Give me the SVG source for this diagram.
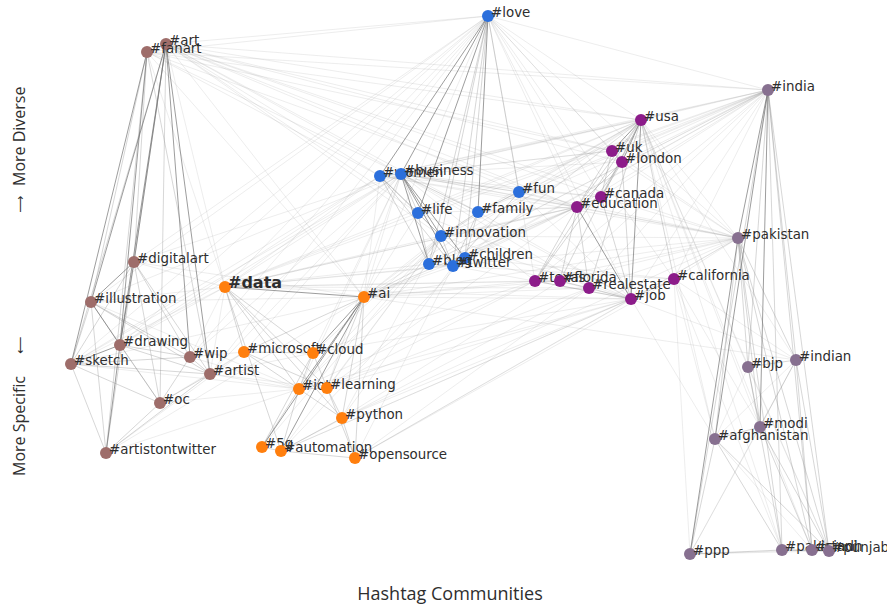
<svg xmlns="http://www.w3.org/2000/svg" width="887" height="606" viewBox="0 0 887 606">
<style>
.bg{fill:#fff}
.d{stroke:#737373;stroke-width:1;stroke-opacity:.7;fill:none}
.m{stroke:#8c8c8c;stroke-width:.7;stroke-opacity:.5;fill:none}
.f{stroke:#9a9a9a;stroke-width:.6;stroke-opacity:.3;fill:none}
.n circle{r:6}
.art{fill:#9e6d6a}.blu{fill:#2b6fdc}.pur{fill:#8c1c8a}.org{fill:#ff7f0e}.mau{fill:#877090}
.lb{font-family:"DejaVu Sans",sans-serif;font-size:13.4px;fill:#2e2e2e}
.bold{font-weight:bold;font-size:16px}
.ax{font-family:"Open Sans","DejaVu Sans",sans-serif;fill:#2e2e2e}
.ar{font-family:"DejaVu Sans",sans-serif;fill:#2e2e2e}
</style>
<rect class="bg" width="887" height="606"/>
<g id="connectors">
<path class="f" d="M166 44L488 16M166 44L380 176M166 44L401 174M166 44L641 120M166 44L768 90M166 44L622 162M166 44L577 207M166 44L519 192M166 44L478 212M166 44L418 213M166 44L601 197M166 44L612 151M166 44L441 236M166 44L738 238M147 52L488 16M147 52L401 174M147 52L380 176M147 52L641 120M147 52L768 90M147 52L225 287M147 52L364 297M488 16L641 120M488 16L612 151M488 16L622 162M488 16L768 90M488 16L577 207M488 16L601 197M488 16L738 238M488 16L364 297M488 16L225 287M488 16L71 364M488 16L120 345M488 16L91 302M488 16L134 262M488 16L631 299M488 16L674 279M488 16L535 281M768 90L641 120M768 90L612 151M768 90L622 162M768 90L601 197M768 90L577 207M768 90L401 174M768 90L380 176M768 90L519 192M768 90L478 212M768 90L418 213M768 90L465 258M768 90L631 299M768 90L674 279M768 90L589 288M768 90L364 297M768 90L225 287M641 120L401 174M641 120L380 176M641 120L418 213M641 120L478 212M641 120L519 192M641 120L441 236M641 120L429 264M641 120L453 266M641 120L465 258M641 120L364 297M641 120L225 287M641 120L738 238M401 174L577 207M401 174L601 197M401 174L622 162M401 174L612 151M401 174L631 299M401 174L364 297M401 174L225 287M401 174L244 352M401 174L299 389M401 174L327 388M401 174L313 353M401 174L589 288M401 174L535 281M401 174L71 364M401 174L134 262M401 174L91 302M401 174L120 345M401 174L210 374M401 174L190 357M380 176L577 207M380 176L601 197M380 176L612 151M380 176L225 287M380 176L364 297M380 176L120 345M380 176L71 364M577 207L441 236M577 207L429 264M577 207L453 266M577 207L465 258M577 207L478 212M577 207L519 192M577 207L418 213M577 207L364 297M577 207L225 287M577 207L327 388M577 207L738 238M364 297L441 236M364 297L429 264M364 297L453 266M364 297L465 258M364 297L631 299M364 297L535 281M364 297L589 288M364 297L478 212M364 297L418 213M364 297L738 238M225 287L441 236M225 287L429 264M225 287L453 266M225 287L418 213M225 287L631 299M225 287L589 288M225 287L210 374M225 287L190 357M225 287L120 345M225 287L91 302M225 287L134 262M631 299L453 266M631 299L441 236M631 299L465 258M631 299L738 238M631 299L796 360M631 299L715 439M631 299L327 388M631 299L299 389M631 299L313 353M631 299L355 458M631 299L342 418M631 299L281 451M738 238L601 197M738 238L674 279M738 238L589 288M738 238L535 281M738 238L560 281M738 238L401 174M738 238L441 236M738 238L225 287M738 238L380 176M674 279L715 439M674 279L690 554M674 279L782 550M674 279L760 427M674 279L796 360M674 279L453 266M674 279L465 258M535 281L299 389M535 281L313 353M535 281L327 388M560 281L342 418M589 288L355 458M589 288L281 451M441 236L299 389M441 236L313 353M441 236L327 388M441 236L281 451M441 236L262 447M441 236L342 418M453 266L355 458M453 266L342 418M429 264L299 389M465 258L281 451M244 352L210 374M244 352L190 357M313 353L210 374M299 389L210 374M210 374L327 388M190 357L299 389M160 403L299 389M160 403L244 352M106 453L299 389M106 453L244 352M71 364L299 389M71 364L225 287M91 302L299 389M796 360L715 439M796 360L690 554M715 439L812 550M760 427L690 554M748 367L715 439M748 367L829 551M690 554L812 550M690 554L829 551M641 120L796 360M641 120L748 367M641 120L715 439M641 120L760 427M641 120L782 550M622 162L738 238M612 151L738 238M641 120L829 551M641 120L812 550M519 192L738 238M519 192L631 299M478 212L631 299M418 213L631 299M355 458L738 238M342 418L738 238M364 297L796 360M281 451L631 299M355 458L674 279M327 388L589 288M166 44L225 287M166 44L364 297M147 52L612 151M147 52L577 207M768 90L535 281M768 90L560 281M768 90L441 236M768 90L453 266M768 90L429 264M488 16L190 357M488 16L210 374M225 287L535 281M225 287L560 281M225 287L577 207M364 297L560 281M364 297L577 207M71 364L364 297M91 302L364 297M134 262L364 297M106 453L364 297"/>
<path class="m" d="M147 52L91 302M147 52L134 262M147 52L106 453M147 52L210 374M166 44L71 364M166 44L160 403M166 44L106 453M134 262L71 364M134 262L210 374M134 262L160 403M134 262L190 357M91 302L71 364M91 302L210 374M91 302L190 357M91 302L160 403M120 345L190 357M120 345L210 374M120 345L160 403M71 364L210 374M71 364L106 453M71 364L190 357M71 364L160 403M190 357L210 374M190 357L160 403M210 374L160 403M210 374L106 453M160 403L106 453M91 302L106 453M488 16L519 192M488 16L441 236M488 16L429 264M488 16L453 266M488 16L465 258M380 176L401 174M380 176L418 213M380 176L441 236M380 176L429 264M380 176L453 266M401 174L418 213M401 174L478 212M401 174L519 192M418 213L441 236M418 213L429 264M478 212L465 258M478 212L453 266M519 192L453 266M441 236L429 264M441 236L453 266M441 236L465 258M429 264L453 266M465 258L453 266M519 192L478 212M478 212L441 236M641 120L601 197M641 120L577 207M641 120L535 281M641 120L560 281M641 120L589 288M641 120L674 279M612 151L622 162M612 151L577 207M612 151L601 197M622 162L601 197M622 162L577 207M622 162L631 299M601 197L577 207M577 207L535 281M577 207L560 281M577 207L589 288M535 281L560 281M560 281L589 288M589 288L631 299M535 281L631 299M674 279L631 299M601 197L631 299M622 162L535 281M225 287L244 352M225 287L313 353M225 287L299 389M225 287L327 388M225 287L342 418M364 297L244 352M364 297L327 388M364 297L342 418M364 297L355 458M244 352L313 353M244 352L299 389M244 352L327 388M313 353L299 389M313 353L327 388M313 353L262 447M299 389L327 388M299 389L262 447M299 389L281 451M299 389L342 418M327 388L342 418M327 388L355 458M342 418L355 458M262 447L281 451M281 451L355 458M342 418L281 451M225 287L281 451M768 90L796 360M768 90L748 367M768 90L782 550M768 90L812 550M768 90L829 551M768 90L690 554M738 238L715 439M738 238L782 550M738 238L812 550M738 238L829 551M738 238L748 367M738 238L760 427M738 238L796 360M796 360L748 367M796 360L760 427M796 360L829 551M796 360L812 550M748 367L760 427M748 367L782 550M760 427L715 439M760 427L829 551M760 427L812 550M715 439L782 550M715 439L690 554M690 554L782 550M782 550L812 550M812 550L829 551M782 550L829 551M715 439L829 551"/>
<path class="d" d="M166 44L91 302M166 44L120 345M166 44L210 374M166 44L134 262M147 52L71 364M147 52L120 345M166 44L190 357M134 262L120 345M134 262L91 302M91 302L120 345M120 345L71 364M106 453L120 345M577 207L631 299M641 120L631 299M364 297L299 389M364 297L262 447M364 297L281 451M364 297L313 353M225 287L364 297M768 90L738 238M768 90L715 439M768 90L760 427M738 238L690 554M401 174L441 236M401 174L429 264M401 174L453 266M488 16L380 176M488 16L401 174M488 16L418 213M488 16L478 212M641 120L612 151M641 120L622 162M401 174L465 258"/>
</g>
<g id="n-art" class="n"><circle class="art" cx="166" cy="44"/><text class="lb" x="169" y="45">#art</text></g>
<g id="n-fanart" class="n"><circle class="art" cx="147" cy="52"/><text class="lb" x="150" y="53">#fanart</text></g>
<g id="n-digitalart" class="n"><circle class="art" cx="134" cy="262"/><text class="lb" x="137" y="263">#digitalart</text></g>
<g id="n-illustration" class="n"><circle class="art" cx="91" cy="302"/><text class="lb" x="94" y="303">#illustration</text></g>
<g id="n-drawing" class="n"><circle class="art" cx="120" cy="345"/><text class="lb" x="123" y="346">#drawing</text></g>
<g id="n-sketch" class="n"><circle class="art" cx="71" cy="364"/><text class="lb" x="74" y="365">#sketch</text></g>
<g id="n-wip" class="n"><circle class="art" cx="190" cy="357"/><text class="lb" x="193" y="358">#wip</text></g>
<g id="n-artist" class="n"><circle class="art" cx="210" cy="374"/><text class="lb" x="213" y="375">#artist</text></g>
<g id="n-oc" class="n"><circle class="art" cx="160" cy="403"/><text class="lb" x="163" y="404">#oc</text></g>
<g id="n-artistontwitter" class="n"><circle class="art" cx="106" cy="453"/><text class="lb" x="109" y="454">#artistontwitter</text></g>
<g id="n-love" class="n"><circle class="blu" cx="488" cy="16"/><text class="lb" x="491" y="17">#love</text></g>
<g id="n-women" class="n"><circle class="blu" cx="380" cy="176"/><text class="lb" x="383" y="177">#women</text></g>
<g id="n-business" class="n"><circle class="blu" cx="401" cy="174"/><text class="lb" x="404" y="175">#business</text></g>
<g id="n-fun" class="n"><circle class="blu" cx="519" cy="192"/><text class="lb" x="522" y="193">#fun</text></g>
<g id="n-life" class="n"><circle class="blu" cx="418" cy="213"/><text class="lb" x="421" y="214">#life</text></g>
<g id="n-family" class="n"><circle class="blu" cx="478" cy="212"/><text class="lb" x="481" y="213">#family</text></g>
<g id="n-innovation" class="n"><circle class="blu" cx="441" cy="236"/><text class="lb" x="444" y="237">#innovation</text></g>
<g id="n-children" class="n"><circle class="blu" cx="465" cy="258"/><text class="lb" x="468" y="259">#children</text></g>
<g id="n-blog" class="n"><circle class="blu" cx="429" cy="264"/><text class="lb" x="432" y="265">#blog</text></g>
<g id="n-twitter" class="n"><circle class="blu" cx="453" cy="266"/><text class="lb" x="456" y="267">#twitter</text></g>
<g id="n-usa" class="n"><circle class="pur" cx="641" cy="120"/><text class="lb" x="644" y="121">#usa</text></g>
<g id="n-uk" class="n"><circle class="pur" cx="612" cy="151"/><text class="lb" x="615" y="152">#uk</text></g>
<g id="n-london" class="n"><circle class="pur" cx="622" cy="162"/><text class="lb" x="625" y="163">#london</text></g>
<g id="n-canada" class="n"><circle class="pur" cx="601" cy="197"/><text class="lb" x="604" y="198">#canada</text></g>
<g id="n-education" class="n"><circle class="pur" cx="577" cy="207"/><text class="lb" x="580" y="208">#education</text></g>
<g id="n-texas" class="n"><circle class="pur" cx="535" cy="281"/><text class="lb" x="538" y="282">#texas</text></g>
<g id="n-florida" class="n"><circle class="pur" cx="560" cy="281"/><text class="lb" x="563" y="282">#florida</text></g>
<g id="n-realestate" class="n"><circle class="pur" cx="589" cy="288"/><text class="lb" x="592" y="289">#realestate</text></g>
<g id="n-job" class="n"><circle class="pur" cx="631" cy="299"/><text class="lb" x="634" y="300">#job</text></g>
<g id="n-california" class="n"><circle class="pur" cx="674" cy="279"/><text class="lb" x="677" y="280">#california</text></g>
<g id="n-data" class="n"><circle class="org" cx="225" cy="287"/><text class="lb bold" x="228" y="288">#data</text></g>
<g id="n-ai" class="n"><circle class="org" cx="364" cy="297"/><text class="lb" x="367" y="298">#ai</text></g>
<g id="n-microsoft" class="n"><circle class="org" cx="244" cy="352"/><text class="lb" x="247" y="353">#microsoft</text></g>
<g id="n-cloud" class="n"><circle class="org" cx="313" cy="353"/><text class="lb" x="316" y="354">#cloud</text></g>
<g id="n-iot" class="n"><circle class="org" cx="299" cy="389"/><text class="lb" x="302" y="390">#iot</text></g>
<g id="n-learning" class="n"><circle class="org" cx="327" cy="388"/><text class="lb" x="330" y="389">#learning</text></g>
<g id="n-python" class="n"><circle class="org" cx="342" cy="418"/><text class="lb" x="345" y="419">#python</text></g>
<g id="n-5g" class="n"><circle class="org" cx="262" cy="447"/><text class="lb" x="265" y="448">#5g</text></g>
<g id="n-automation" class="n"><circle class="org" cx="281" cy="451"/><text class="lb" x="284" y="452">#automation</text></g>
<g id="n-opensource" class="n"><circle class="org" cx="355" cy="458"/><text class="lb" x="358" y="459">#opensource</text></g>
<g id="n-india" class="n"><circle class="mau" cx="768" cy="90"/><text class="lb" x="771" y="91">#india</text></g>
<g id="n-pakistan" class="n"><circle class="mau" cx="738" cy="238"/><text class="lb" x="741" y="239">#pakistan</text></g>
<g id="n-indian" class="n"><circle class="mau" cx="796" cy="360"/><text class="lb" x="799" y="361">#indian</text></g>
<g id="n-bjp" class="n"><circle class="mau" cx="748" cy="367"/><text class="lb" x="751" y="368">#bjp</text></g>
<g id="n-modi" class="n"><circle class="mau" cx="760" cy="427"/><text class="lb" x="763" y="428">#modi</text></g>
<g id="n-afghanistan" class="n"><circle class="mau" cx="715" cy="439"/><text class="lb" x="718" y="440">#afghanistan</text></g>
<g id="n-ppp" class="n"><circle class="mau" cx="690" cy="554"/><text class="lb" x="693" y="555">#ppp</text></g>
<g id="n-pakistani" class="n"><circle class="mau" cx="782" cy="550"/><text class="lb" x="785" y="551">#pakistani</text></g>
<g id="n-sindh" class="n"><circle class="mau" cx="812" cy="550"/><text class="lb" x="815" y="551">#sindh</text></g>
<g id="n-punjab" class="n"><circle class="mau" cx="829" cy="551"/><text class="lb" x="832" y="552">#punjab</text></g>
<g id="axes">
<text class="ax" x="450" y="600" text-anchor="middle" font-size="18">Hashtag Communities</text>
<text class="ax" font-size="16" transform="translate(25,186) rotate(-90)">More Diverse</text>
<text class="ar" font-size="12" transform="translate(24,213) rotate(-90)">⟶</text>
<text class="ax" font-size="16" transform="translate(25,476) rotate(-90)">More Specific</text>
<text class="ar" font-size="12" transform="translate(24,354) rotate(-90)">⟵</text>
</g>
</svg>
